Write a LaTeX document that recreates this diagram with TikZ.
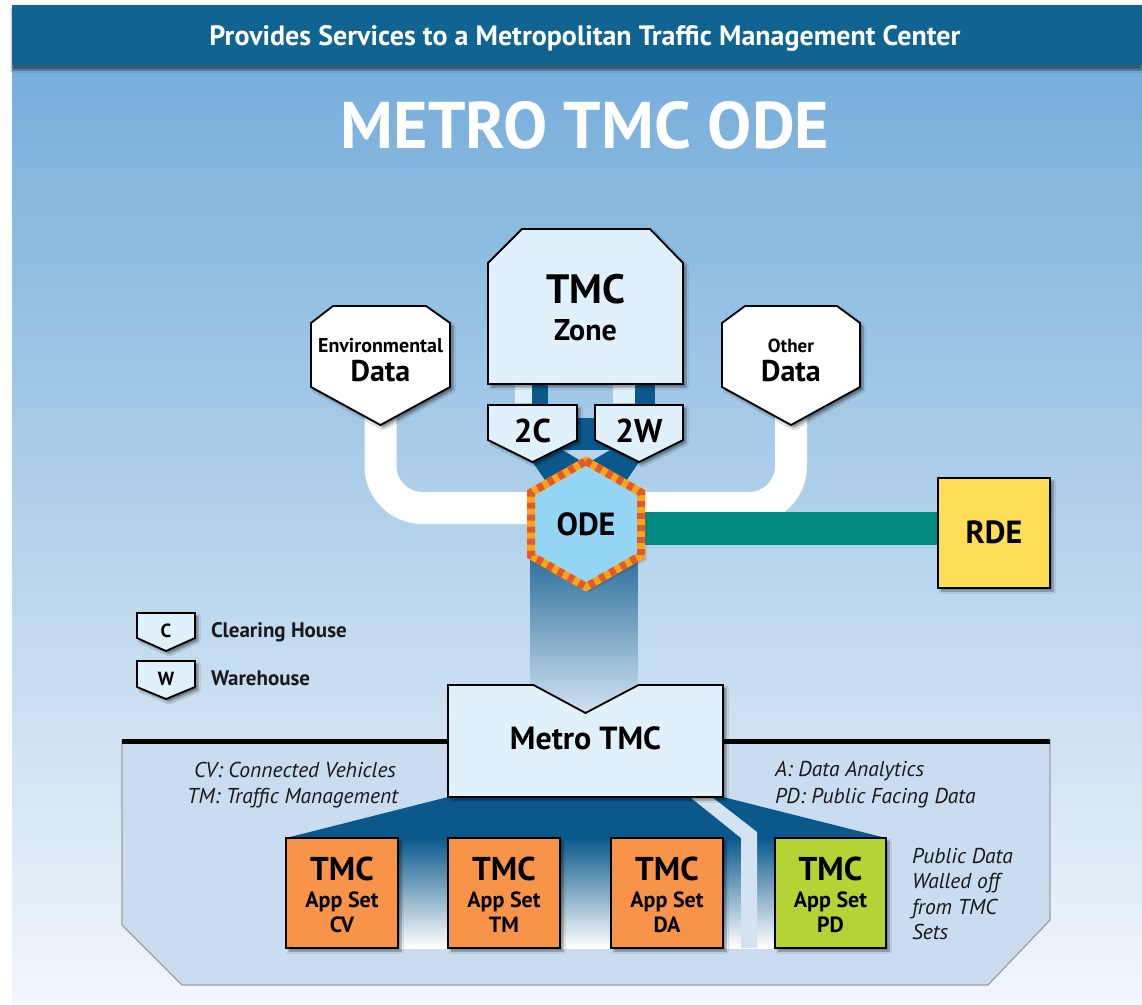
\documentclass[tikz,border=0pt]{standalone}
\usepackage{fontspec}
\setmainfont{PT Sans}
\usetikzlibrary{calc,shadows,shadows.blur}

\definecolor{barblue}{HTML}{0F6491}
\definecolor{bgtop}{HTML}{76AEDB}
\definecolor{bgbot}{HTML}{F2F7FC}
\definecolor{boxlight}{HTML}{E0F1FC}
\definecolor{odefill}{HTML}{94D5F3}
\definecolor{dashA}{HTML}{F9A51A}
\definecolor{dashB}{HTML}{E2592A}
\definecolor{appor}{HTML}{F7944A}
\definecolor{appgr}{HTML}{B4D334}
\definecolor{rdey}{HTML}{FEDD57}
\definecolor{tealc}{HTML}{008A80}
\definecolor{deepblue}{HTML}{0B598C}
\definecolor{panelc}{HTML}{C9DCF0}
\definecolor{wallc}{HTML}{D3E3F2}
\definecolor{gapc}{HTML}{B6D4EC}
\definecolor{pipebot}{HTML}{D2E2F1}

\newcommand\fsz[1]{\fontsize{#1}{#1}\selectfont}

\begin{document}
\begin{tikzpicture}[x=1pt,y=-1pt,
  holder/.style={inner sep=0pt, outer sep=0pt, draw=none},
  shp/.style={draw=black, line width=1.8pt, line join=miter, fill=boxlight,
    blur shadow={shadow xshift=3pt, shadow yshift=-3pt, shadow blur steps=6, shadow opacity=45}},
  lbl/.style={anchor=base, inner sep=0pt, outer sep=0pt, text=black},
  lblw/.style={anchor=base west, inner sep=0pt, outer sep=0pt, text=black!90},
  lble/.style={anchor=base east, inner sep=0pt, outer sep=0pt, text=black!90},
  pipe/.style={line width=32pt, white, rounded corners=42pt},
  annot/.style={font=\itshape\fsz{21.5}}
]
\useasboundingbox (0,0) rectangle (1142,1004);
% background
\fill[white] (0,0) rectangle (1142,1004);
\shade[top color=bgtop, bottom color=bgbot] (12,65) rectangle (1142,1004);
\fill[barblue, blur shadow={shadow xshift=0pt, shadow yshift=-5pt, shadow opacity=50}] (12,5) rectangle (1142,65);
\node[lbl, font=\bfseries\fsz{28}, text=white] (header) at (585,45) {Provides Services to a Metropolitan Traffic Management Center};
\node[lbl, font=\bfseries\fsz{66}, text=white] (title) at (585,148) {METRO TMC ODE};

% holders
\node[holder, minimum width=195pt, minimum height=155pt] (zone) at (585.5,306.5) {};
\node[holder, minimum width=139pt, minimum height=81pt] (env) at (380.5,346.5) {};
\node[holder, minimum width=138pt, minimum height=81pt] (other) at (791,346.5) {};
\node[holder, minimum width=89pt, minimum height=35pt] (c2) at (532.5,422.5) {};
\node[holder, minimum width=88pt, minimum height=35pt] (w2) at (639,422.5) {};
\node[holder, minimum width=118pt, minimum height=134pt] (ode) at (586,524) {};
\node[holder, minimum width=112pt, minimum height=110pt] (rde) at (994,533) {};
\node[holder, minimum width=275pt, minimum height=112pt] (metro) at (585.5,741) {};
\node[holder, minimum width=112pt, minimum height=110pt] (cv) at (342,893) {};
\node[holder, minimum width=112pt, minimum height=110pt] (tm) at (504,893) {};
\node[holder, minimum width=112pt, minimum height=110pt] (da) at (667,893) {};
\node[holder, minimum width=111pt, minimum height=110pt] (pd) at (830.5,893) {};
\node[holder, minimum width=58pt, minimum height=25pt] (legC) at (166,625.5) {};
\node[holder, minimum width=58pt, minimum height=26pt] (legW) at (166,674) {};

% white pipes
\draw[pipe] (env.south) |- ([yshift=16pt]ode.center);
\draw[pipe] (other.south) |- ([yshift=16pt]ode.center);
% teal bar
\coordinate (tealL) at ([yshift=-4.5pt]ode.center);
\draw[line width=33pt, tealc] (tealL) -- (tealL -| rde.west);

% zone to 2C / 2W stubs
\coordinate (s1) at ($(c2.north)+(-9,-2)$);
\coordinate (s2) at ($(c2.north)+(7.5,0)$);
\coordinate (s3) at ($(w2.north)+(-15,-2)$);
\coordinate (s4) at ($(w2.north)+(6,0)$);
\draw[line width=16pt, deepblue] (s2) -- (s2 |- zone.south);
\draw[line width=17pt, boxlight] (s1) -- (s1 |- zone.south);
\draw[line width=20pt, deepblue] (s4) -- (s4 |- zone.south);
\draw[line width=22pt, boxlight] (s3) -- (s3 |- zone.south);

% 2C/2W to ODE
\fill[deepblue] ($(c2.south)+(0,22)$) -- ($(c2.north east)+(0,13)$) -- ($(w2.north west)+(0,13)$)
  -- ($(w2.south)+(0,22)$) -- ($(ode.center)+(34,-34)$) -- ($(ode.center)+(0,-54)$)
  -- ($(ode.center)+(-34,-34)$) -- cycle;
\fill[gapc] ($(ode.center)+(-23,-74)$) -- ($(ode.center)+(24,-74)$) -- ($(ode.center)+(0,-60)$) -- cycle;

% ODE to Metro TMC
\shade[top color=deepblue, bottom color=pipebot] ($(ode.center)+(-56,0)$) rectangle ($(metro.north)+(52,28)$);

% bottom panel
\filldraw[fill=panelc, draw=gray!75, line width=1.2pt] (122,741) -- (1050,741) -- (1050,920) -- (988,985) -- (182,985) -- (122,925) -- cycle;
\draw[line width=5pt] (122,741) -- (1050,741);

% fan from Metro TMC to app sets
\fill[deepblue] (metro.south west) -- (metro.south east) -- (pd.north east) -- (cv.north west) -- cycle;
\shade[top color=deepblue, middle color=deepblue!60!white, bottom color=white] (cv.north west) rectangle (pd.south east);
\fill[wallc] ($(metro.south east)+(-33,0)$) -- ($(metro.south east)+(-11,0)$) -- ($(pd.north west)+(-18,-6)$)
  -- ($(pd.south west)+(-18,0)$) -- ($(pd.south west)+(-34,0)$) -- ($(pd.north west)+(-34,0)$) -- cycle;

% shapes
\filldraw[shp] (zone.south west) -- ($(zone.north west)+(0,34)$) -- ($(zone.north west)+(34,0)$)
  -- ($(zone.north east)+(-33,0)$) -- ($(zone.north east)+(0,34)$) -- (zone.south east) -- cycle;
\filldraw[shp, fill=white] (env.south west) -- ($(env.north west)+(0,17)$) -- ($(env.north west)+(22,0)$)
  -- ($(env.north east)+(-24,0)$) -- ($(env.north east)+(0,17)$) -- (env.south east) -- ($(env.south)+(0,38)$) -- cycle;
\filldraw[shp, fill=white] (other.south west) -- ($(other.north west)+(0,17)$) -- ($(other.north west)+(23,0)$)
  -- ($(other.north east)+(-23,0)$) -- ($(other.north east)+(0,17)$) -- (other.south east) -- ($(other.south)+(0,38)$) -- cycle;
\filldraw[shp] (c2.north west) -- (c2.north east) -- (c2.south east) -- ($(c2.south)+(0,22)$) -- (c2.south west) -- cycle;
\filldraw[shp] (w2.north west) -- (w2.north east) -- (w2.south east) -- ($(w2.south)+(0,22)$) -- (w2.south west) -- cycle;
\filldraw[shp] (legC.north west) -- (legC.north east) -- (legC.south east) -- ($(legC.south)+(0,13)$) -- (legC.south west) -- cycle;
\filldraw[shp] (legW.north west) -- (legW.north east) -- (legW.south east) -- ($(legW.south)+(0,12)$) -- (legW.south west) -- cycle;
% ODE hexagon
\fill[odefill, blur shadow={shadow xshift=3pt, shadow yshift=-3pt, shadow blur steps=6, shadow opacity=45}]
  ($(ode.center)+(0,-63)$) -- ($(ode.center)+(55,-31.5)$) -- ($(ode.center)+(55,31.5)$) -- ($(ode.center)+(0,63)$)
  -- ($(ode.center)+(-55,31.5)$) -- ($(ode.center)+(-55,-31.5)$) -- cycle;
\draw[dashA, line width=8pt, line join=miter]
  ($(ode.center)+(0,-63)$) -- ($(ode.center)+(55,-31.5)$) -- ($(ode.center)+(55,31.5)$) -- ($(ode.center)+(0,63)$)
  -- ($(ode.center)+(-55,31.5)$) -- ($(ode.center)+(-55,-31.5)$) -- cycle;
\draw[dashB, line width=8pt, dash pattern=on 6pt off 6pt]
  ($(ode.center)+(0,-63)$) -- ($(ode.center)+(55,-31.5)$) -- ($(ode.center)+(55,31.5)$) -- ($(ode.center)+(0,63)$)
  -- ($(ode.center)+(-55,31.5)$) -- ($(ode.center)+(-55,-31.5)$) -- cycle;
\filldraw[shp, fill=rdey] (rde.south west) rectangle (rde.north east);
\filldraw[shp] (metro.south west) -- (metro.north west) -- ($(metro.north)+(-52,0)$) -- ($(metro.north)+(0,28)$)
  -- ($(metro.north)+(53,0)$) -- (metro.north east) -- (metro.south east) -- cycle;
\filldraw[shp, fill=appor] (cv.south west) rectangle (cv.north east);
\filldraw[shp, fill=appor] (tm.south west) rectangle (tm.north east);
\filldraw[shp, fill=appor] (da.south west) rectangle (da.north east);
\filldraw[shp, fill=appgr] (pd.south west) rectangle (pd.north east);

% texts
\node[lbl, font=\bfseries\fsz{41}] (zoneA) at (585.5,303) {TMC};
\node[lbl, font=\bfseries\fsz{30}] (zoneB) at (585.5,340) {Zone};
\node[lbl, font=\bfseries\fsz{20}] (envA) at (380.5,352) {Environmental};
\node[lbl, font=\bfseries\fsz{30}] (envB) at (380.5,381) {Data};
\node[lbl, font=\bfseries\fsz{19}] (otherA) at (791,352) {Other};
\node[lbl, font=\bfseries\fsz{30}] (otherB) at (791,381) {Data};
\node[lbl, font=\bfseries\fsz{33}] (c2t) at (532.5,442) {2C};
\node[lbl, font=\bfseries\fsz{33}] (w2t) at (639,442) {2W};
\node[lbl, font=\bfseries\fsz{32}] (odet) at (586,535) {ODE};
\node[lbl, font=\bfseries\fsz{32}] (rdet) at (994,543) {RDE};
\node[lbl, font=\bfseries\fsz{32}] (metrot) at (585.5,749) {Metro TMC};
\foreach \b/\s in {cv/CV, tm/TM, da/DA, pd/PD}{
  \node[lbl, font=\bfseries\fsz{33}] (\b A) at (\b.center |- 0,880) {TMC};
  \node[lbl, font=\bfseries\fsz{22}] (\b B) at (\b.center |- 0,907) {App Set};
  \node[lbl, font=\bfseries\fsz{22}] (\b C) at (\b.center |- 0,932) {\s};
}
\node[lbl, font=\bfseries\fsz{19}] (legCt) at (166,637) {C};
\node[lbl, font=\bfseries\fsz{19}] (legWt) at (166,685) {W};
\node[lblw, font=\bfseries\fsz{21}] (legCl) at (211,637) {Clearing House};
\node[lblw, font=\bfseries\fsz{21}] (legWl) at (211,685) {Warehouse};
\node[lble, annot] (anCV) at (396,777) {CV: Connected Vehicles};
\node[lble, annot] (anTM) at (398,803) {TM: Traffic Management};
\node[lblw, annot] (anA) at (775,776) {A: Data Analytics};
\node[lblw, annot] (anPD) at (775,803) {PD: Public Facing Data};
\node[lblw, annot] (pub1) at (912,863) {Public Data};
\node[lblw, annot] (pub2) at (912,888) {Walled off};
\node[lblw, annot] (pub3) at (912,914) {from TMC};
\node[lblw, annot] (pub4) at (912,939) {Sets};
\end{tikzpicture}
\end{document}
